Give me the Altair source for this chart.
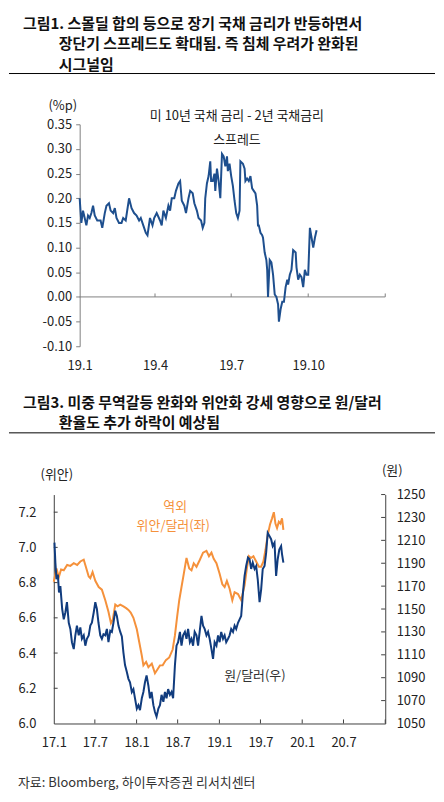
import altair as alt
import pandas as pd

FONT = "Noto Sans CJK KR"
TOP_BLUE = "#1E4F8E"
KRW_BLUE = "#113C7E"
CNH_ORANGE = "#F5913B"
AXIS_GREY = "#808080"
AXIS_DARK = "#404040"

# ---------------- text ----------------
title1_lines = ["그림1. 스몰딜 합의 등으로 장기 국채 금리가 반등하면서",
                "장단기 스프레드도 확대됨. 즉 침체 우려가 완화된",
                "시그널임"]
title2_lines = ["그림3. 미중 무역갈등 완화와 위안화 강세 영향으로 원/달러",
                "환율도 추가 하락이 예상됨"]
spread_note = ["미 10년 국채 금리 - 2년 국채금리", "스프레드"]
cnh_note = ["역외", "위안/달러(좌)"]
krw_note = "원/달러(우)"
top_unit = "(%p)"
left_unit = "(위안)"
right_unit = "(원)"
source_note = "자료: Bloomberg, 하이투자증권 리서치센터"

# ---------------- data: US 10y-2y spread (days since 2019-01-01) ----------------
spread_day = [0, 2, 4, 6, 8, 10, 12, 14, 16, 18, 21, 25, 27, 30, 32, 35, 37, 40, 42, 44,
              47, 50, 52, 55, 59, 62, 65, 68, 71, 73, 76, 79, 81, 84, 87, 89, 92, 96, 98, 100,
              103, 106, 108, 110, 113, 115, 118, 120, 122, 125, 127, 130, 132, 135, 137, 140, 142, 145, 147, 149,
              150, 152, 154, 156, 157, 159, 161, 162, 164, 166, 168, 170, 172, 174, 176, 177, 179, 181, 183, 185,
              187, 189, 191, 192, 195, 197, 198, 200, 202, 204, 206, 208, 210, 212, 213, 214, 216, 218, 219, 221,
              223, 224, 225, 227, 229, 231, 233, 235, 237, 238, 240, 242, 244, 246, 248, 249, 251, 253, 255, 258,
              259, 261, 263, 265, 267, 269, 271, 273, 275, 277, 279, 281, 283]
spread_val = [0.20, 0.15, 0.175, 0.16, 0.145, 0.165, 0.16, 0.17, 0.185, 0.165,
              0.155, 0.155, 0.14, 0.17, 0.185, 0.19, 0.175, 0.17, 0.18, 0.16,
              0.15, 0.15, 0.16, 0.155, 0.20, 0.18, 0.17, 0.165, 0.155, 0.16,
              0.145, 0.13, 0.125, 0.16, 0.145, 0.16, 0.17, 0.155, 0.145, 0.175,
              0.16, 0.185, 0.175, 0.20, 0.20, 0.215, 0.23, 0.235, 0.195, 0.185,
              0.17, 0.20, 0.215, 0.21, 0.19, 0.175, 0.16, 0.155, 0.14, 0.15,
              0.20, 0.23, 0.245, 0.275, 0.235, 0.235, 0.25, 0.215, 0.26, 0.235,
              0.20, 0.29, 0.285, 0.265, 0.285, 0.255, 0.27, 0.245, 0.225, 0.195,
              0.17, 0.16, 0.175, 0.275, 0.27, 0.26, 0.235, 0.24, 0.235, 0.245,
              0.22, 0.215, 0.21, 0.185, 0.145, 0.145, 0.13, 0.125, 0.12, 0.09,
              0.075, 0.055, 0.00, 0.075, 0.07, 0.045, 0.005, 0.00, -0.015, -0.05,
              -0.025, -0.01, -0.01, 0.02, 0.035, 0.025, 0.045, 0.055, 0.095, 0.09,
              0.06, 0.035, 0.045, 0.04, 0.02, 0.055, 0.045, 0.045, 0.14, 0.12,
              0.10, 0.12, 0.135]

# ---------------- data: offshore CNH (days since 2017-01-01) ----------------
cnh_day = [0, 12, 22, 32, 44, 59, 73, 88, 103, 117, 132, 139, 154, 161, 171, 183, 198, 212, 227, 241,
           252, 260, 271, 281, 293, 307, 319, 329, 339, 351, 366, 377, 388, 395, 407, 417, 432, 446, 456, 468,
           480, 494, 509, 524, 534, 544, 553, 563, 573, 585, 597, 607, 617, 629, 644, 658, 673, 684, 695, 705,
           717, 731, 743, 753, 763, 775, 787, 797, 812,
           826, 841, 851, 860, 869, 880, 892, 904, 914, 924, 933, 943, 953, 962, 970, 977, 984, 992, 999, 1006, 1012]
cnh_val = [6.805, 6.88, 6.83, 6.875, 6.87, 6.90, 6.895, 6.91, 6.90, 6.92,
           6.93, 6.90, 6.835, 6.825, 6.86, 6.81, 6.775, 6.76, 6.70, 6.635,
           6.57, 6.59, 6.675, 6.665, 6.675, 6.665, 6.655, 6.645, 6.63, 6.60,
           6.535, 6.46, 6.385, 6.33, 6.35, 6.32, 6.34, 6.285, 6.305, 6.33,
           6.33, 6.36, 6.375, 6.42, 6.50, 6.61, 6.70, 6.775, 6.85, 6.94,
           6.88, 6.87, 6.91, 6.89, 6.93, 6.97, 6.98, 6.95, 6.97, 6.935,
           6.91, 6.85, 6.79, 6.775, 6.81, 6.765, 6.70, 6.745, 6.735,
           6.70, 6.785, 6.88, 6.95, 6.94, 6.95, 6.92, 6.89, 6.89, 6.92,
           6.985, 7.07, 7.13, 7.165, 7.20, 7.135, 7.11, 7.145, 7.135, 7.165, 7.10]

# ---------------- data: KRW/USD (days since 2017-01-01) ----------------
krw_day = [3, 7, 12, 18, 23, 29, 37, 44, 51, 58, 66, 73, 80, 88, 95, 102, 110, 117, 124, 132,
           139, 146, 154, 161, 168, 176, 183, 190, 197, 205, 212, 219, 227, 234, 241, 249, 256, 263, 271, 278,
           285, 293, 300, 307, 314, 322, 329, 336, 344, 351, 358, 366, 373, 380, 388, 395, 402, 409, 417, 424,
           431, 439, 446, 453, 461, 468, 475, 483, 490, 497, 504, 512, 519, 526, 534, 541, 548, 556, 563, 570,
           578, 585, 592, 600, 607, 614, 621, 629, 636, 643, 651, 658, 665, 673, 680, 687, 695, 702, 709, 717,
           724, 731, 738, 746, 753, 760, 768, 775, 782, 790, 797, 804, 812,
           819, 826, 834, 841, 848, 856, 863, 870, 877, 885, 892, 899, 907, 914, 921, 929, 936, 943, 951, 958,
           965, 973, 980, 987, 994, 1002, 1006, 1012]
krw_val = [1208, 1190.6, 1176, 1180, 1164.5, 1170, 1150, 1141, 1147, 1156,
           1138, 1132.6, 1121, 1115, 1127, 1135.5, 1127, 1134, 1124, 1127,
           1118, 1124, 1127, 1135.5, 1138, 1147, 1156, 1150, 1138, 1127,
           1124, 1128, 1127, 1132.6, 1121, 1131, 1130, 1138, 1148.5, 1144,
           1135.5, 1130, 1126, 1112, 1101, 1095, 1089, 1086, 1077.5, 1080,
           1072, 1063, 1066, 1061.6, 1072, 1077.5, 1086, 1092, 1083, 1072,
           1077.5, 1066, 1060, 1056, 1063, 1066, 1075, 1069, 1077.5, 1072,
           1080, 1075, 1077.5, 1072, 1101, 1118, 1121, 1130, 1118, 1127,
           1130, 1124, 1132.6, 1121, 1124, 1118, 1130, 1127, 1118, 1130,
           1144, 1135.5, 1132.6, 1127, 1130, 1124, 1115, 1106.5, 1121, 1118,
           1127, 1121, 1130, 1124, 1127, 1121, 1124, 1127, 1132.6, 1130,
           1135.5, 1132.6, 1138,
           1141, 1144, 1164.5, 1179, 1187.6, 1195, 1193.5, 1185, 1190.6, 1185,
           1187.6, 1176, 1156, 1167, 1185, 1187.6, 1199, 1216.6, 1213.7, 1211,
           1205, 1208, 1179, 1193.5, 1202, 1205, 1198, 1190.6]

# ---------------- tick labels ----------------
top_y_ticks = [-0.10, -0.05, 0.00, 0.05, 0.10, 0.15, 0.20, 0.25, 0.30, 0.35]
top_x_months = [(2019, 1), (2019, 4), (2019, 7), (2019, 10)]
top_zero_ticks = ["2019-04-01T00:00:00", "2019-07-01T00:00:00", "2019-10-01T00:00:00", "2020-01-01T00:00:00"]
cnh_ticks = [6.0, 6.2, 6.4, 6.6, 6.8, 7.0, 7.2]
krw_ticks = [1050, 1070, 1090, 1110, 1130, 1150, 1170, 1190, 1210, 1230, 1250]
bot_x_months = [(2017, 1), (2017, 7), (2018, 1), (2018, 7), (2019, 1), (2019, 7), (2020, 1), (2020, 7)]
bot_x_tick_dates = ["2017-07-01T00:00:00", "2018-01-01T00:00:00", "2018-07-01T00:00:00", "2019-01-01T00:00:00",
                    "2019-07-01T00:00:00", "2020-01-01T00:00:00", "2020-07-01T00:00:00", "2021-01-01T00:00:00"]


def to_dates(base, days):
    b = pd.Timestamp(base)
    return [(b + pd.Timedelta(days=int(d))).strftime("%Y-%m-%dT00:00:00") for d in days]


def txt(s, x, y, size=13, color="#222222", weight="normal", align="left"):
    return alt.Chart(pd.DataFrame({"t": [s]})).mark_text(
        align=align, baseline="middle", font=FONT, fontSize=size, color=color, fontWeight=weight
    ).encode(x=alt.value(x), y=alt.value(y), text="t:N")


def hline(x1, x2, y):
    return alt.Chart(pd.DataFrame({"a": [0]})).mark_rule(color="#000000", strokeWidth=1).encode(
        x=alt.value(x1), x2=alt.value(x2), y=alt.value(y))


LABEL_EXPR_DATE = "timeFormat(datum.value, '%y') + '.' + (month(datum.value) + 1)"
axis_font = dict(labelFont=FONT, labelFontSize=13, labelColor="#222222", title=None, grid=False)
TITLE_SIZE = 15

# Both panels share the same plot origin (page x = 53); the top panel's
# plot is inset by TOP_INSET px so that its y axis sits at page x = 79.
PW = 333
TOP_INSET = 26

# ================= top chart =================
TH = 223
spread_df = pd.DataFrame({"date": to_dates("2019-01-01", spread_day), "v": spread_val})
top_x = alt.Scale(domain=[alt.DateTime(year=2019, month=1, date=1), alt.DateTime(year=2020, month=1, date=1)],
                  range=[TOP_INSET, PW], nice=False)
top_y = alt.Scale(domain=[-0.10, 0.35], nice=False, zero=False)
top_x_axis = alt.Axis(
    values=[alt.DateTime(year=y, month=m, date=1) for y, m in top_x_months],
    labelExpr=LABEL_EXPR_DATE, domain=False, ticks=False, tickSize=0, labelPadding=13,
    labelFlush=False, labelOverlap=False, **axis_font)
top_y_axis = alt.Axis(
    values=top_y_ticks, offset=-TOP_INSET,
    labelExpr="(datum.value < 0 ? '-' : '') + format(abs(datum.value), '.2f')",
    domainColor=AXIS_GREY, tickColor=AXIS_GREY, tickSize=4, labelPadding=4,
    labelOverlap=False, **axis_font)

spread_line = alt.Chart(spread_df).mark_line(color=TOP_BLUE, strokeWidth=2).encode(
    x=alt.X("date:T", scale=top_x, axis=top_x_axis),
    y=alt.Y("v:Q", scale=top_y, axis=top_y_axis),
)
zero_line = alt.Chart(pd.DataFrame({"a": [0]})).mark_rule(color=AXIS_GREY, strokeWidth=1).encode(
    x=alt.X(datum=alt.DateTime(year=2019, month=1, date=1), type="temporal", scale=top_x, axis=top_x_axis),
    x2=alt.X2(datum=alt.DateTime(year=2020, month=1, date=1)),
    y=alt.Y(datum=0, type="quantitative", scale=top_y, axis=top_y_axis),
)
zero_ticks = alt.Chart(pd.DataFrame({"date": top_zero_ticks})).mark_rule(color=AXIS_GREY, strokeWidth=1).encode(
    x=alt.X("date:T", scale=top_x, axis=top_x_axis),
    y=alt.Y(datum=0, type="quantitative", scale=top_y, axis=top_y_axis),
    y2=alt.Y2(datum=0.007),
)

top = alt.layer(
    zero_line, zero_ticks, spread_line,
    txt(spread_note[0], 184, -8, align="center"),
    txt(spread_note[1], 184, 16, align="center"),
    txt(top_unit, 9, -18, align="center"),
    txt(title1_lines[0], -31, -101, size=TITLE_SIZE, color="#111111", weight="bold"),
    txt(title1_lines[1], 5, -81, size=TITLE_SIZE, color="#111111", weight="bold"),
    txt(title1_lines[2], 5, -60, size=TITLE_SIZE, color="#111111", weight="bold"),
    hline(-45, 383, -51),
).properties(width=PW, height=TH)

# ================= bottom chart =================
BH = 230
cnh_df = pd.DataFrame({"date": to_dates("2017-01-01", cnh_day), "v": cnh_val})
krw_df = pd.DataFrame({"date": to_dates("2017-01-01", krw_day), "v": krw_val})
bot_x = alt.Scale(domain=[alt.DateTime(year=2017, month=1, date=1), alt.DateTime(year=2021, month=1, date=1)],
                  nice=False)
cnh_y = alt.Scale(domain=[6.0, 7.3], nice=False, zero=False)
krw_y = alt.Scale(domain=[1050, 1250], nice=False, zero=False)
bot_x_axis = alt.Axis(
    values=[alt.DateTime(year=y, month=m, date=1) for y, m in bot_x_months],
    labelExpr=LABEL_EXPR_DATE, domainColor=AXIS_DARK, ticks=False, tickSize=0, labelPadding=13,
    labelFlush=False, labelOverlap=False, **axis_font)
cnh_axis = alt.Axis(
    orient="left", values=cnh_ticks, format=".1f", domainColor=AXIS_DARK,
    ticks=False, tickSize=0, labelPadding=18, labelOverlap=False, **axis_font)
krw_axis = alt.Axis(
    orient="right", values=krw_ticks, format="d", domainColor=AXIS_DARK,
    ticks=False, tickSize=0, labelPadding=11, labelOverlap=False, **axis_font)

cnh_line = alt.Chart(cnh_df).mark_line(color=CNH_ORANGE, strokeWidth=2).encode(
    x=alt.X("date:T", scale=bot_x, axis=bot_x_axis),
    y=alt.Y("v:Q", scale=cnh_y, axis=cnh_axis),
)
x_ticks = alt.Chart(pd.DataFrame({"date": bot_x_tick_dates})).mark_rule(color=AXIS_DARK, strokeWidth=1).encode(
    x=alt.X("date:T", scale=bot_x, axis=bot_x_axis),
    y=alt.Y(datum=6.0, type="quantitative", scale=cnh_y, axis=cnh_axis),
    y2=alt.Y2(datum=6.023),
)
left_ticks = alt.Chart(pd.DataFrame({"v": cnh_ticks[1:]})).mark_rule(color=AXIS_DARK, strokeWidth=1).encode(
    x=alt.X(datum=alt.DateTime(year=2017, month=1, date=1), type="temporal", scale=bot_x, axis=bot_x_axis),
    x2=alt.X2(datum=alt.DateTime(year=2017, month=1, date=18)),
    y=alt.Y("v:Q", scale=cnh_y, axis=cnh_axis),
)
left_group = alt.layer(cnh_line, x_ticks, left_ticks)

krw_line = alt.Chart(krw_df).mark_line(color=KRW_BLUE, strokeWidth=2).encode(
    x=alt.X("date:T", scale=bot_x, axis=bot_x_axis),
    y=alt.Y("v:Q", scale=krw_y, axis=krw_axis),
)
right_ticks = alt.Chart(pd.DataFrame({"v": krw_ticks[1:]})).mark_rule(color=AXIS_DARK, strokeWidth=1).encode(
    x=alt.X(datum=alt.DateTime(year=2020, month=12, date=14), type="temporal", scale=bot_x, axis=bot_x_axis),
    x2=alt.X2(datum=alt.DateTime(year=2021, month=1, date=1)),
    y=alt.Y("v:Q", scale=krw_y, axis=krw_axis),
)
right_group = alt.layer(krw_line, right_ticks)

bottom = alt.layer(
    left_group, right_group,
    txt(cnh_note[0], 122, 13, color=CNH_ORANGE, align="center"),
    txt(cnh_note[1], 120, 32, color=CNH_ORANGE, align="center"),
    txt(krw_note, 202, 182, color="#333333", align="center"),
    txt(left_unit, 3, -20, align="center"),
    txt(right_unit, 340, -24, align="center"),
    txt(title2_lines[0], -31, -92, size=TITLE_SIZE, color="#111111", weight="bold"),
    txt(title2_lines[1], 5, -72, size=TITLE_SIZE, color="#111111", weight="bold"),
    hline(-45, 383, -62),
    txt(source_note, -36, 290, color="#333333"),
).resolve_scale(y="independent").properties(width=PW, height=BH)

chart = alt.vconcat(top, bottom, spacing=24).properties(
    padding={"left": 0, "top": 7, "right": 0, "bottom": 0}
).configure_view(stroke=None)

chart.save("out.html", embed_options={"renderer": "svg", "actions": False})
